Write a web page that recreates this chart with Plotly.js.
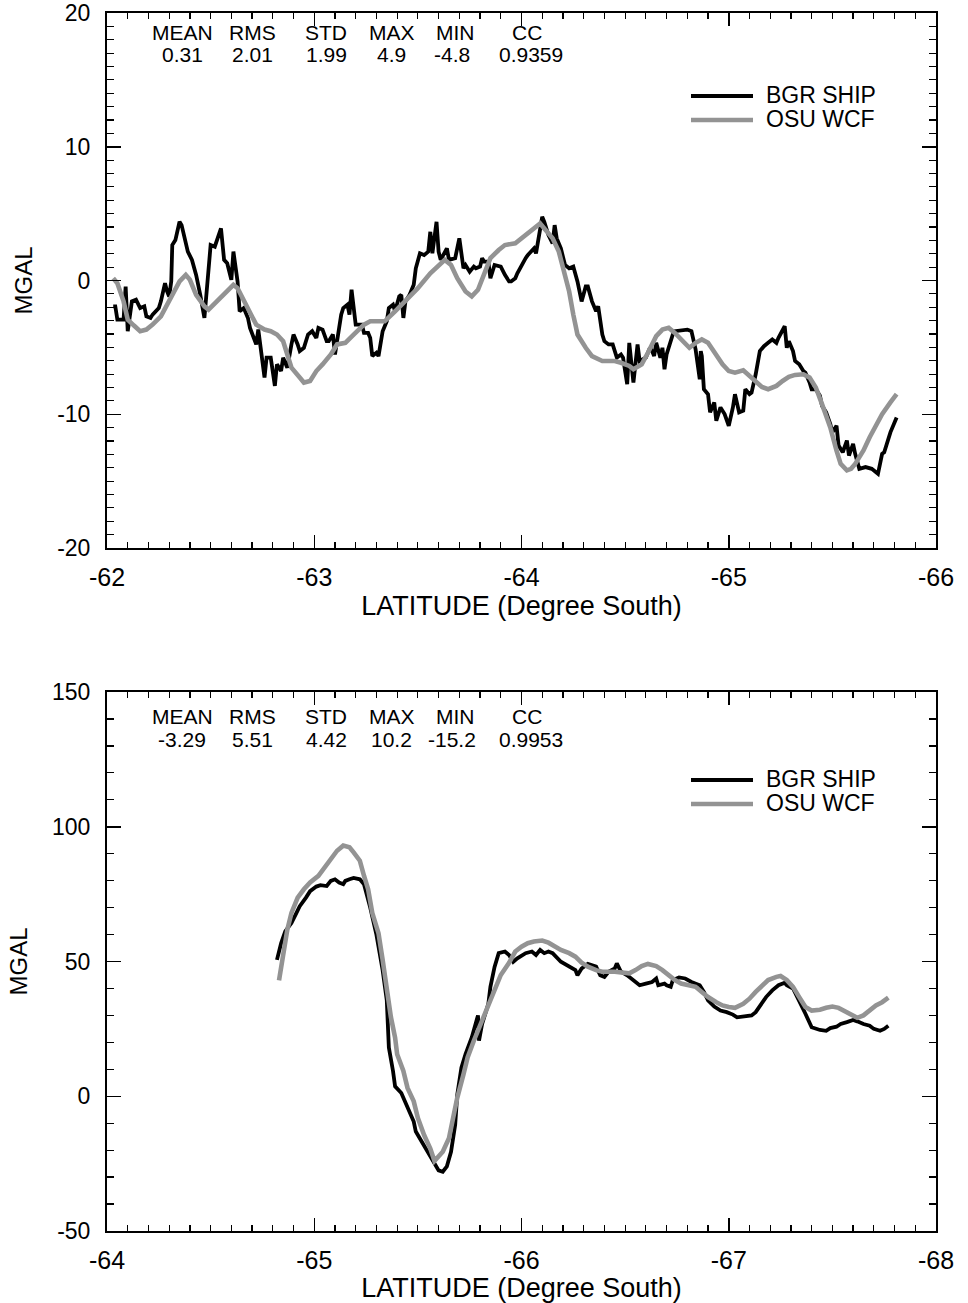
<!DOCTYPE html>
<html>
<head>
<meta charset="utf-8">
<script src="https://cdn.plot.ly/plotly-3.0.1.min.js"></script>
<style>html,body{margin:0;padding:0;background:#fff;}#chart{width:968px;height:1303px;}</style>
</head>
<body>
<div id="chart"></div>
<script>
// ---------- DATA ----------
const seriesNames = ['BGR SHIP', 'OSU WCF'];
const statNames = ['MEAN', 'RMS', 'STD', 'MAX', 'MIN', 'CC'];
const statsTop = ['0.31', '2.01', '1.99', '4.9', '-4.8', '0.9359'];
const statsBottom = ['-3.29', '5.51', '4.42', '10.2', '-15.2', '0.9953'];
const xTitle = 'LATITUDE (Degree South)';
const yTitle = 'MGAL';

// tick values and labels
const xTickValsTop = [-62, -63, -64, -65, -66];
const xTickTextTop = ['-62', '-63', '-64', '-65', '-66'];
const xTickValsBot = [-64, -65, -66, -67, -68];
const xTickTextBot = ['-64', '-65', '-66', '-67', '-68'];
const yTickValsTop = [-20, -10, 0, 10, 20];
const yTickTextTop = ['-20', '-10', '0', '10', '20'];
const yTickValsBot = [-50, 0, 50, 100, 150];
const yTickTextBot = ['-50', '0', '50', '100', '150'];

// Top panel: BGR SHIP
const shipLatTop = [-62.03,-62.04,-62.05,-62.08,-62.09,-62.10,-62.12,-62.14,-62.16,-62.18,-62.19,-62.21,-62.22,-62.25,-62.26,-62.28,-62.29,-62.30,-62.31,-62.315,-62.33,-62.35,-62.36,-62.38,-62.39,-62.41,-62.43,-62.45,-62.47,-62.50,-62.52,-62.55,-62.56,-62.565,-62.58,-62.60,-62.61,-62.63,-62.64,-62.66,-62.68,-62.69,-62.72,-62.73,-62.76,-62.77,-62.79,-62.81,-62.82,-62.84,-62.85,-62.87,-62.89,-62.90,-62.92,-62.93,-62.95,-62.97,-62.99,-63.01,-63.02,-63.04,-63.06,-63.07,-63.09,-63.10,-63.11,-63.13,-63.14,-63.16,-63.17,-63.18,-63.20,-63.23,-63.24,-63.26,-63.27,-63.28,-63.30,-63.31,-63.33,-63.35,-63.36,-63.38,-63.39,-63.41,-63.42,-63.43,-63.44,-63.46,-63.48,-63.49,-63.51,-63.53,-63.55,-63.56,-63.57,-63.59,-63.60,-63.61,-63.64,-63.65,-63.68,-63.70,-63.72,-63.73,-63.75,-63.77,-63.78,-63.80,-63.81,-63.82,-63.84,-63.85,-63.87,-63.90,-63.92,-63.94,-63.95,-63.97,-63.98,-64.00,-64.02,-64.03,-64.06,-64.07,-64.09,-64.10,-64.11,-64.13,-64.15,-64.16,-64.17,-64.19,-64.21,-64.23,-64.25,-64.27,-64.29,-64.31,-64.32,-64.34,-64.36,-64.37,-64.39,-64.40,-64.42,-64.44,-64.46,-64.48,-64.49,-64.51,-64.52,-64.54,-64.56,-64.57,-64.60,-64.62,-64.63,-64.64,-64.65,-64.67,-64.68,-64.69,-64.70,-64.72,-64.73,-64.74,-64.77,-64.80,-64.82,-64.83,-64.84,-64.85,-64.86,-64.865,-64.87,-64.88,-64.90,-64.91,-64.93,-64.94,-64.96,-64.98,-65.00,-65.02,-65.03,-65.05,-65.07,-65.08,-65.10,-65.11,-65.13,-65.15,-65.17,-65.19,-65.21,-65.23,-65.24,-65.27,-65.28,-65.29,-65.31,-65.32,-65.34,-65.36,-65.37,-65.39,-65.40,-65.42,-65.44,-65.45,-65.47,-65.49,-65.50,-65.52,-65.53,-65.55,-65.57,-65.58,-65.60,-65.61,-65.62,-65.63,-65.66,-65.69,-65.72,-65.74,-65.75,-65.77,-65.78,-65.81];
const shipTop = [-1.93,-1.93,-2.92,-2.92,-0.45,-3.79,-1.56,-1.44,-2.06,-1.93,-2.68,-2.80,-2.55,-2.06,-1.56,-0.20,-0.82,-1.19,-0.07,2.65,3.02,4.39,4.14,2.65,2.16,1.54,0.42,-1.07,-2.80,2.65,2.53,3.89,2.40,1.54,1.29,0.05,2.16,-0.07,-2.30,-2.06,-2.80,-3.54,-4.78,-3.67,-7.26,-5.77,-5.77,-7.88,-6.27,-6.77,-5.77,-6.52,-4.78,-4.04,-4.78,-5.28,-5.03,-4.04,-3.79,-4.29,-3.54,-3.67,-4.54,-4.54,-4.04,-5.53,-4.54,-2.55,-2.06,-1.81,-2.55,-0.69,-3.30,-3.30,-3.92,-3.92,-4.29,-5.65,-5.40,-5.65,-3.79,-3.05,-2.06,-1.81,-2.30,-1.19,-1.07,-2.80,-1.56,-1.07,-0.32,0.91,2.03,1.90,2.16,3.64,2.03,4.39,2.16,1.54,2.40,1.54,1.67,3.15,0.91,1.16,0.66,1.04,0.91,1.04,1.67,1.41,1.41,0.17,1.16,1.04,0.42,-0.07,-0.07,0.17,0.54,1.16,1.67,1.90,2.40,2.03,3.89,4.76,4.39,3.40,2.78,4.14,3.15,2.40,1.16,0.91,1.04,-0.07,-1.56,-0.45,-0.45,-1.56,-2.30,-1.93,-4.04,-4.54,-4.78,-4.78,-5.77,-5.53,-5.77,-7.75,-4.66,-7.63,-4.78,-6.02,-5.77,-5.03,-5.28,-5.65,-4.66,-5.77,-5.03,-6.64,-5.53,-4.54,-4.04,-3.79,-3.74,-3.67,-3.79,-4.54,-5.15,-6.27,-7.38,-5.28,-5.65,-8.13,-8.50,-9.86,-9.12,-10.48,-9.49,-9.99,-10.86,-9.49,-8.50,-9.86,-9.74,-8.13,-8.50,-8.38,-7.01,-5.28,-4.91,-4.66,-4.41,-4.66,-4.29,-3.42,-5.03,-4.54,-5.28,-6.02,-6.27,-6.77,-6.89,-7.63,-8.13,-8.13,-8.62,-9.37,-9.86,-10.73,-11.35,-10.86,-12.34,-12.84,-11.97,-13.09,-12.22,-12.96,-13.46,-14.08,-13.95,-14.08,-14.45,-12.96,-12.84,-11.72,-11.35,-10.24];

// Top panel: OSU WCF
const wcfLatTop = [-62.03,-62.05,-62.08,-62.10,-62.13,-62.16,-62.19,-62.22,-62.26,-62.29,-62.32,-62.35,-62.38,-62.40,-62.43,-62.47,-62.49,-62.52,-62.56,-62.59,-62.61,-62.63,-62.66,-62.69,-62.72,-62.76,-62.79,-62.82,-62.85,-62.87,-62.89,-62.93,-62.95,-62.98,-63.01,-63.04,-63.08,-63.11,-63.15,-63.19,-63.24,-63.27,-63.34,-63.39,-63.44,-63.50,-63.56,-63.63,-63.66,-63.69,-63.73,-63.76,-63.79,-63.82,-63.85,-63.89,-63.92,-63.97,-64.02,-64.06,-64.09,-64.11,-64.15,-64.18,-64.20,-64.23,-64.25,-64.27,-64.31,-64.34,-64.39,-64.45,-64.48,-64.52,-64.54,-64.58,-64.61,-64.65,-64.68,-64.71,-64.74,-64.77,-64.81,-64.84,-64.87,-64.90,-64.94,-64.97,-65.00,-65.03,-65.07,-65.10,-65.13,-65.16,-65.19,-65.23,-65.26,-65.29,-65.32,-65.36,-65.39,-65.42,-65.45,-65.49,-65.52,-65.54,-65.57,-65.59,-65.61,-65.65,-65.68,-65.71,-65.74,-65.78,-65.81];
const wcfTop = [0.17,-0.20,-1.56,-2.92,-3.37,-3.79,-3.67,-3.30,-2.68,-1.81,-1.07,-0.07,0.42,0.05,-1.07,-1.93,-2.18,-1.69,-1.07,-0.57,-0.32,-0.57,-1.44,-2.30,-3.30,-3.67,-3.79,-4.04,-4.54,-5.53,-6.52,-7.26,-7.63,-7.51,-6.77,-6.27,-5.53,-4.78,-4.66,-4.04,-3.30,-3.05,-3.05,-2.30,-1.56,-0.57,0.54,1.54,1.16,0.17,-0.82,-1.19,-0.69,0.54,1.67,2.28,2.65,2.78,3.40,3.89,4.26,3.89,3.15,2.16,0.91,-0.82,-2.55,-4.04,-5.03,-5.65,-6.02,-6.02,-6.15,-6.39,-6.64,-6.27,-5.40,-4.16,-3.67,-3.54,-3.92,-4.41,-5.03,-4.66,-4.41,-4.66,-5.53,-6.27,-6.77,-6.89,-6.72,-7.14,-7.63,-7.96,-8.13,-7.88,-7.51,-7.21,-7.06,-7.01,-7.26,-8.00,-9.24,-10.98,-12.71,-13.71,-14.20,-14.08,-13.71,-12.71,-11.72,-10.86,-9.99,-9.12,-8.50];

// Bottom panel: BGR SHIP
const shipLatBot = [-64.82,-64.84,-64.86,-64.89,-64.91,-64.93,-64.96,-64.98,-65.01,-65.03,-65.06,-65.08,-65.10,-65.12,-65.14,-65.15,-65.17,-65.19,-65.22,-65.23,-65.24,-65.27,-65.30,-65.33,-65.35,-65.355,-65.36,-65.38,-65.39,-65.42,-65.45,-65.48,-65.49,-65.52,-65.54,-65.57,-65.60,-65.62,-65.64,-65.66,-65.67,-65.68,-65.69,-65.71,-65.73,-65.76,-65.79,-65.795,-65.81,-65.84,-65.85,-65.87,-65.89,-65.92,-65.94,-65.96,-65.98,-66.02,-66.05,-66.07,-66.09,-66.11,-66.13,-66.15,-66.19,-66.23,-66.26,-66.27,-66.29,-66.32,-66.36,-66.38,-66.40,-66.42,-66.45,-66.46,-66.48,-66.51,-66.53,-66.57,-66.60,-66.63,-66.65,-66.66,-66.69,-66.70,-66.72,-66.73,-66.76,-66.79,-66.82,-66.84,-66.86,-66.88,-66.90,-66.93,-66.96,-66.99,-67.02,-67.04,-67.08,-67.11,-67.13,-67.15,-67.18,-67.21,-67.24,-67.27,-67.28,-67.31,-67.34,-67.37,-67.40,-67.44,-67.47,-67.49,-67.52,-67.54,-67.57,-67.60,-67.62,-67.65,-67.68,-67.70,-67.73,-67.75,-67.77];
const shipBot = [50.6,56.8,61.2,64.3,67.4,70.5,73.7,76.1,77.8,78.3,78.0,79.9,80.5,79.3,78.7,79.9,80.5,81.0,80.5,79.5,78.7,70.0,60.0,46.8,35.6,26.8,18.1,9.4,3.7,1.2,-4.4,-9.4,-13.1,-16.9,-19.4,-23.5,-27.5,-28.0,-26.0,-20.6,-15.6,-10.6,0.6,10.6,15.6,21.8,30.0,20.6,26.8,34.3,40.6,48.0,53.1,53.7,52.4,49.9,51.2,53.1,53.7,52.4,54.3,53.1,53.7,53.1,49.9,48.1,46.8,44.9,47.4,49.1,48.1,44.9,44.3,46.2,47.4,49.3,46.2,44.9,43.7,41.2,41.8,42.4,43.7,41.2,41.8,41.2,40.6,43.1,44.1,43.7,42.4,41.8,41.2,38.7,35.6,33.3,31.8,31.2,30.3,29.3,29.6,30.0,31.2,33.7,36.8,39.3,41.2,42.1,41.2,40.0,35.6,30.6,25.6,24.6,24.3,25.3,25.8,26.8,27.5,28.3,27.8,26.8,26.2,25.0,24.3,25.0,26.2];

// Bottom panel: OSU WCF
const wcfLatBot = [-64.83,-64.85,-64.87,-64.89,-64.92,-64.95,-64.98,-65.02,-65.05,-65.08,-65.11,-65.14,-65.17,-65.19,-65.22,-65.24,-65.26,-65.28,-65.31,-65.33,-65.35,-65.37,-65.39,-65.40,-65.43,-65.45,-65.48,-65.50,-65.53,-65.56,-65.58,-65.62,-65.65,-65.67,-65.69,-65.72,-65.74,-65.77,-65.81,-65.84,-65.87,-65.90,-65.94,-65.97,-66.00,-66.03,-66.06,-66.10,-66.13,-66.16,-66.19,-66.23,-66.26,-66.29,-66.32,-66.36,-66.39,-66.45,-66.52,-66.55,-66.58,-66.61,-66.65,-66.68,-66.71,-66.74,-66.77,-66.81,-66.84,-66.87,-66.90,-66.94,-66.97,-67.00,-67.03,-67.07,-67.10,-67.13,-67.16,-67.19,-67.23,-67.25,-67.28,-67.31,-67.34,-67.37,-67.40,-67.44,-67.47,-67.50,-67.53,-67.57,-67.60,-67.62,-67.65,-67.68,-67.71,-67.74,-67.77];
const wcfBot = [43.0,53.1,61.8,68.0,73.7,76.8,79.3,81.8,84.9,88.0,91.1,93.0,92.4,90.5,87.4,81.8,76.8,68.0,60.5,50.6,40.0,29.3,21.8,15.6,9.4,3.1,-1.9,-8.1,-14.4,-19.4,-24.0,-20.6,-15.6,-8.1,-0.6,8.1,14.4,20.6,28.1,33.6,40.0,45.0,49.5,53.7,55.5,56.8,57.4,57.8,57.0,55.5,54.3,53.1,51.8,49.6,48.1,46.8,46.2,46.2,45.6,46.8,48.3,49.1,48.3,46.8,44.9,43.1,41.8,41.2,40.6,38.7,36.8,34.9,33.7,33.1,32.8,34.3,36.2,38.7,41.2,43.1,44.3,44.6,43.1,40.6,36.8,33.1,31.8,32.1,32.8,33.3,32.8,31.2,30.0,29.1,30.0,31.8,33.7,34.9,36.6];

// ---------- LAYOUT HELPERS ----------
const W = 968, H = 1303, ML = 107, MR = 32, MT = 13, MB = 72;
const PW = W - ML - MR, PH = H - MT - MB;
const fx = px => (px - ML) / PW;
const fy = py => (H - MB - py) / PH;

const FONT = 'Liberation Sans, Arial, Helvetica, sans-serif';
const BLACK = '#000000';
const GRAY = '#939393';
const SHIP_W = 3.8, WCF_W = 4.6;

const traces = [
  {x: shipLatTop, y: shipTop, xaxis: 'x', yaxis: 'y', mode: 'lines', name: seriesNames[0], line: {color: BLACK, width: SHIP_W}, showlegend: false},
  {x: wcfLatTop, y: wcfTop, xaxis: 'x', yaxis: 'y', mode: 'lines', name: seriesNames[1], line: {color: GRAY, width: WCF_W}, showlegend: false},
  {x: shipLatBot, y: shipBot, xaxis: 'x2', yaxis: 'y2', mode: 'lines', name: seriesNames[0], line: {color: BLACK, width: SHIP_W}, showlegend: false},
  {x: wcfLatBot, y: wcfBot, xaxis: 'x2', yaxis: 'y2', mode: 'lines', name: seriesNames[1], line: {color: GRAY, width: WCF_W}, showlegend: false}
];

function xAxis(range, anchor, vals, text) {
  return {
    anchor: anchor, domain: [0, 1], range: range,
    tickmode: 'array', tickvals: vals, ticktext: text,
    ticks: 'inside', ticklen: 13, tickwidth: 1.5, tickcolor: BLACK,
    minor: {tickmode: 'linear', tick0: range[0], dtick: 0.1, ticks: 'inside', ticklen: 6, tickwidth: 1.2, tickcolor: BLACK, showgrid: false},
    showline: true, linewidth: 2, linecolor: BLACK, mirror: 'allticks',
    showgrid: false, zeroline: false, ticklabelstandoff: 6, ticklabeloverflow: 'allow',
    tickfont: {family: FONT, size: 25, color: BLACK},
    title: {text: xTitle, font: {family: FONT, size: 27, color: BLACK}, standoff: 2}
  };
}
function yAxis(range, domain, minorDtick, anchor, vals, text) {
  return {
    anchor: anchor, domain: domain, range: range,
    tickmode: 'array', tickvals: vals, ticktext: text,
    ticks: 'inside', ticklen: 14, tickwidth: 1.5, tickcolor: BLACK,
    minor: {tickmode: 'linear', tick0: 0, dtick: minorDtick, ticks: 'inside', ticklen: 7, tickwidth: 1.2, tickcolor: BLACK, showgrid: false},
    showline: true, linewidth: 2, linecolor: BLACK, mirror: 'allticks',
    showgrid: false, zeroline: false, ticklabelstandoff: 10, ticklabeloverflow: 'allow',
    tickfont: {family: FONT, size: 23, color: BLACK},
    title: {text: yTitle, font: {family: FONT, size: 24, color: BLACK}, standoff: 18}
  };
}

const topFrame = {top: MT, bottom: 548};
const botFrame = {top: 692, bottom: H - MB};

const annotations = [];
const headerX = [182, 252, 326, 392, 455, 527];
const valueX = [182, 252, 326, 391, 452, 531];
function addStats(headerY, valueY, values) {
  statNames.forEach((n, i) => {
    annotations.push({text: n, x: fx(headerX[i]), y: fy(headerY), xref: 'paper', yref: 'paper', xanchor: 'center', yanchor: 'middle', showarrow: false, font: {family: FONT, size: 21, color: BLACK}});
    annotations.push({text: values[i], x: fx(valueX[i]), y: fy(valueY), xref: 'paper', yref: 'paper', xanchor: 'center', yanchor: 'middle', showarrow: false, font: {family: FONT, size: 21, color: BLACK}});
  });
}
addStats(32, 55, statsTop);
addStats(716, 739, statsBottom);

const shapes = [];
function addLegend(y0) {
  const rows = [{y: y0, color: BLACK, width: SHIP_W, name: seriesNames[0]},
                {y: y0 + 24, color: GRAY, width: WCF_W, name: seriesNames[1]}];
  rows.forEach(r => {
    shapes.push({type: 'line', xref: 'paper', yref: 'paper', x0: fx(691), x1: fx(753), y0: fy(r.y + 1), y1: fy(r.y + 1), line: {color: r.color, width: r.width}});
    annotations.push({text: r.name, x: fx(764), y: fy(r.y), xref: 'paper', yref: 'paper', xanchor: 'left', yanchor: 'middle', showarrow: false, font: {family: FONT, size: 23, color: BLACK}});
  });
}
addLegend(95);
addLegend(779);

const layout = {
  width: W, height: H,
  margin: {l: ML, r: MR, t: MT, b: MB, pad: 0},
  paper_bgcolor: '#ffffff', plot_bgcolor: '#ffffff',
  font: {family: FONT, size: 22, color: BLACK},
  showlegend: false,
  xaxis: xAxis([-62, -66], 'y', xTickValsTop, xTickTextTop),
  yaxis: yAxis([-20, 20], [fy(topFrame.bottom), 1], 1, 'x', yTickValsTop, yTickTextTop),
  xaxis2: xAxis([-64, -68], 'y2', xTickValsBot, xTickTextBot),
  yaxis2: yAxis([-50, 150], [0, fy(botFrame.top)], 10, 'x2', yTickValsBot, yTickTextBot),
  annotations: annotations,
  shapes: shapes
};

Plotly.newPlot('chart', traces, layout, {displayModeBar: false, staticPlot: true});
</script>
</body>
</html>
